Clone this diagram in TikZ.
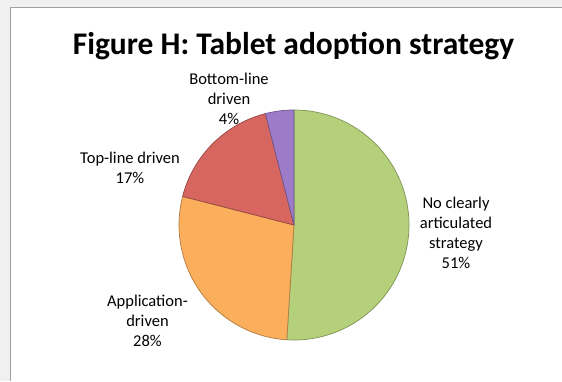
\documentclass[tikz,border=0pt]{standalone}
\usepackage{fontspec}
\setmainfont{Carlito}
\begin{document}
\begin{tikzpicture}[x=1pt,y=1pt,
  lbl/.style={align=center,font=\fontsize{16.5}{20}\selectfont,inner sep=0pt},
  slice/.style={line width=0.7pt,line join=round}]
\useasboundingbox (0,0) rectangle (562,381);
\fill[gray!12] (0,0) rectangle (562,381);
\fill[white] (10,0) rectangle (562,374);
\draw[gray!75,line width=1.3pt] (10.5,0) -- (10.5,373.5) -- (562,373.5);
% title
\node[anchor=base,font=\fontsize{31.5}{36}\selectfont\bfseries,inner sep=0pt] (title) at (293.5,326.5) {Figure H: Tablet adoption strategy};
% pie
\coordinate (c) at (294,156);
\definecolor{pgreen}{HTML}{B5D07A}
\definecolor{porange}{HTML}{FBAF5D}
\definecolor{pred}{HTML}{D6665F}
\definecolor{ppurple}{HTML}{9D7BC9}
\filldraw[slice,fill=pgreen,draw=pgreen!70!black] (c) -- ++(90:115) arc[start angle=90,end angle=-93.6,radius=115pt] -- cycle;
\filldraw[slice,fill=porange,draw=porange!70!black] (c) -- ++(-93.6:115) arc[start angle=-93.6,end angle=-194.4,radius=115pt] -- cycle;
\filldraw[slice,fill=pred,draw=pred!70!black] (c) -- ++(165.6:115) arc[start angle=165.6,end angle=104.4,radius=115pt] -- cycle;
\filldraw[slice,fill=ppurple,draw=ppurple!70!black] (c) -- ++(104.4:115) arc[start angle=104.4,end angle=90,radius=115pt] -- cycle;
% labels
\node[lbl] (bl) at (229,282) {Bottom-line\\driven\\4\%};
\node[lbl] (tl) at (130,213) {Top-line driven\\17\%};
\node[lbl] (nc) at (456,148) {No clearly\\articulated\\strategy\\51\%};
\node[lbl] (ad) at (147.5,60) {Application-\\driven\\28\%};
\end{tikzpicture}
\end{document}
